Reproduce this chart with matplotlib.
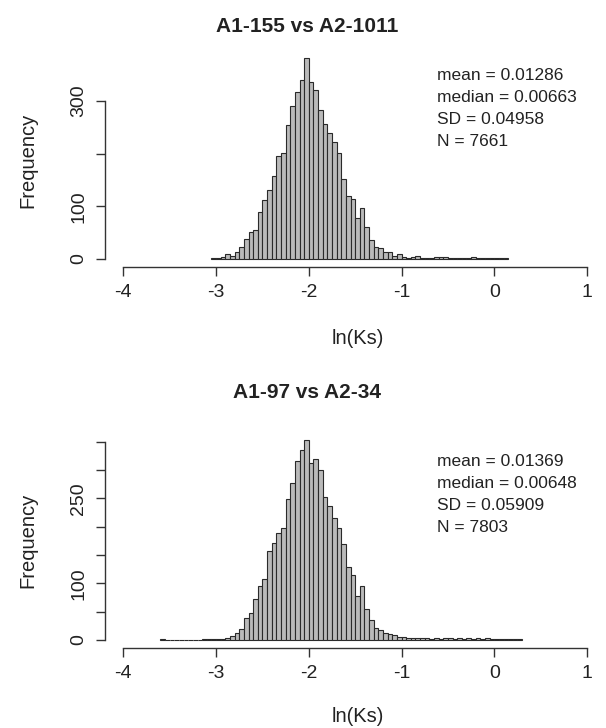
import numpy as np
import matplotlib
matplotlib.use("Agg")
import matplotlib.pyplot as plt

plt.rcParams['font.family'] = ['Liberation Sans', 'DejaVu Sans']
plt.rcParams['axes.unicode_minus'] = False

# ---------------- data ----------------
bin_width = 0.05

top_title = "A1-155 vs A2-1011"
top_start = -3.05
top_counts = [2, 2, 4, 9, 6, 13, 22, 38, 52, 55,
              90, 111, 130, 158, 196, 201, 255, 291, 316, 340,
              381, 335, 321, 283, 256, 240, 222, 201, 152, 120,
              114, 77, 97, 60, 36, 23, 21, 13, 13, 6,
              9, 3, 2, 3, 5, 2, 1, 2, 3, 4,
              4, 2, 2, 2, 1, 2, 4, 2, 2, 1,
              2, 1, 1, 1]
top_stats = ["mean = 0.01286", "median = 0.00663", "SD = 0.04958", "N = 7661"]
top_yticks = [0, 100, 200, 300]
top_ylabels = ["0", "100", "", "300"]

bot_title = "A1-97 vs A2-34"
bot_start = -3.60
bot_counts = [1, 0, 0, 0, 0, 0, 0, 0, 0, 1,
              1, 2, 1, 2, 4, 7, 12, 20, 38, 48,
              72, 95, 108, 157, 171, 188, 198, 249, 276, 315,
              335, 353, 313, 319, 299, 253, 237, 215, 197, 169,
              129, 114, 78, 95, 55, 35, 22, 18, 12, 10,
              8, 5, 6, 4, 3, 4, 3, 3, 2, 3,
              2, 3, 4, 2, 3, 2, 3, 2, 4, 2,
              3, 2, 1, 2, 1, 1, 2, 1]
bot_stats = ["mean = 0.01369", "median = 0.00648", "SD = 0.05909", "N = 7803"]
bot_yticks = [0, 50, 100, 150, 200, 250, 300, 350]
bot_ylabels = ["0", "", "100", "", "", "250", "", ""]

xticks = [-4, -3, -2, -1, 0, 1]
xlabels = ["-4", "-3", "-2", "-1", "0", "1"]
xlabel = "ln(Ks)"
ylabel = "Frequency"

# ---------------- layout (pixel based) ----------------
W, H = 606, 728
fig = plt.figure(figsize=(W / 100, H / 100), dpi=100)

def fx(px):
    return px / W

def fy(py):
    return 1 - py / H

axis_col = "#333333"
fs_tick = 14
fs_lab = 14.5


def panel(rect, start, counts, ylim, yticks, ylabels, ybound, title, title_y,
          stats, stats_y, xlab_y, ylab_y):
    ax = fig.add_axes(rect)
    counts = np.asarray(counts, dtype=float)
    edges = start + bin_width * np.arange(len(counts))
    ax.bar(edges, counts, width=bin_width, align='edge', color='#bababa',
           edgecolor='#2a2a2a', linewidth=0.8)
    ax.set_xlim(-4.2, 1.2)
    ax.set_ylim(*ylim)
    for s in ['top', 'right']:
        ax.spines[s].set_visible(False)
    ax.spines['left'].set_bounds(ybound)
    ax.spines['bottom'].set_bounds(-4, 1)
    for s in ['left', 'bottom']:
        ax.spines[s].set_color(axis_col)
        ax.spines[s].set_linewidth(1.0)
    ax.set_xticks(xticks)
    ax.set_xticklabels(xlabels)
    ax.set_yticks(yticks)
    ax.set_yticklabels(ylabels, rotation=90, va='center')
    ax.tick_params(axis='both', direction='out', length=6.5, width=1.0,
                   color=axis_col, labelsize=fs_tick, labelcolor='#222222')
    ax.tick_params(axis='x', pad=6)
    ax.tick_params(axis='y', pad=6)
    ax.patch.set_visible(False)

    fig.text(fx(307), fy(title_y), title, ha='center', va='center',
             fontsize=15, fontweight='bold', color='#222222')
    for i, s in enumerate(stats):
        fig.text(fx(437), fy(stats_y + 22 * i), s, ha='left', va='center',
                 fontsize=12.5, color='#222222')
    fig.text(fx(358), fy(xlab_y), xlabel, ha='center', va='center',
             fontsize=fs_lab, color='#222222')
    fig.text(fx(28), fy(ylab_y), ylabel, ha='center', va='center',
             rotation=90, fontsize=fs_lab, color='#222222')
    return ax


left = fx(104.75)
width = 500.85 / W

panel([left, fy(267), width, 215 / H], top_start, top_counts,
      (-15.2, 392.8), top_yticks, top_ylabels, (0, 300),
      top_title, 27, top_stats, 75, 338, 160)

panel([left, fy(648), width, 216 / H], bot_start, bot_counts,
      (-14.1, 366.8), bot_yticks, bot_ylabels, (0, 350),
      bot_title, 393, bot_stats, 461, 716, 540)

fig.savefig("out.png", dpi=100)
